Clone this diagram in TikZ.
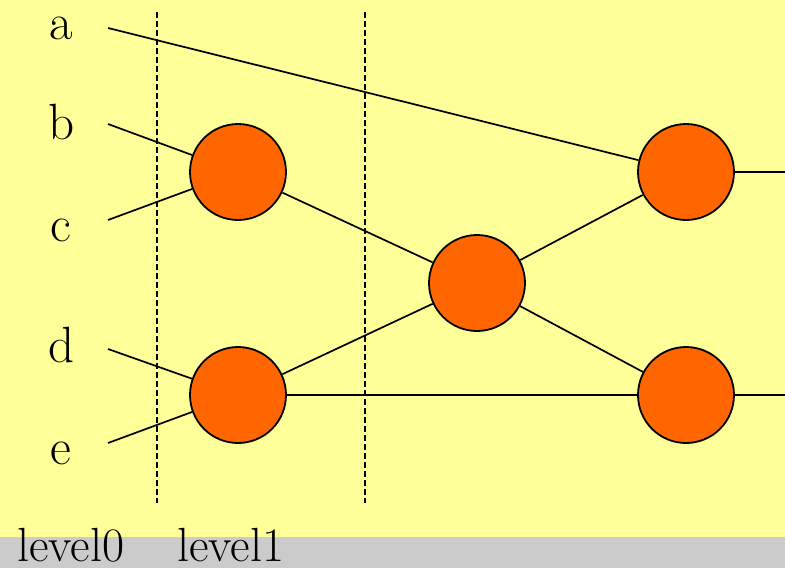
\documentclass[tikz,border=0pt]{standalone}
\usepackage{xcolor}
\usetikzlibrary{positioning}
\definecolor{paper}{RGB}{255,255,153}
\definecolor{strip}{RGB}{203,203,203}
\definecolor{cellfill}{RGB}{255,102,0}
\tikzset{
  cell/.style={circle, draw=black, line width=1.8pt, fill=cellfill, minimum size=96pt, inner sep=0pt},
  lbl/.style={inner sep=0pt, font=\rmfamily\fontsize{51}{51}\selectfont},
  levellbl/.style={inner sep=0pt, anchor=base west, font=\rmfamily\fontsize{48}{48}\selectfont},
  wire/.style={line width=1.7pt},
  cut/.style={line width=1.4pt, dash pattern=on 6pt off 3pt},
}
\begin{document}
\begin{tikzpicture}[x=1pt, y=-1pt]
        % Background
        \fill[paper] (0,0) rectangle (785,568);
        \fill[strip] (0,537) rectangle (785,568);
        \useasboundingbox (0,0) rectangle (785,568);

        % Inputs
        \node[lbl] (a) at (61,28) {a};
        \node[lbl] (b) at (62,122) {b};
        \node[lbl] (c) at (61,230) {c};
        \node[lbl] (d) at (62,345) {d};
        \node[lbl] (e) at (61,453) {e};
        \coordinate (ina) at (108,28);
        \coordinate (inb) at (108,124);
        \coordinate (inc) at (108,220);
        \coordinate (ind) at (108,349);
        \coordinate (ine) at (108,443);

        % Cells
        \node[cell] (c1) at (238,172) {};
        \node[cell] (c2) at (238,395) {};
        \node[cell] (c3) at (477,283) {};
        \node[cell] (c4) at (686,172) {};
        \node[cell] (c5) at (686,395) {};

        % Outputs
        \coordinate (out4) at (785,172);
        \coordinate (out5) at (785,395);

        % Level cuts
        \coordinate (cut0top) at (157,12);
        \coordinate (cut0bot) at (157,503);
        \coordinate (cut1top) at (365,12);
        \coordinate (cut1bot) at (365,503);
        \draw[cut] (cut0top) -- (cut0bot);
        \draw[cut] (cut1top) -- (cut1bot);

        % Connections
        \draw[wire] (ina) -- (c4);
        \draw[wire] (inb) -- (c1);
        \draw[wire] (inc) -- (c1);
        \draw[wire] (ind) -- (c2);
        \draw[wire] (ine) -- (c2);
        \draw[wire] (c1) -- (c3);
        \draw[wire] (c2) -- (c3);
        \draw[wire] (c3) -- (c4);
        \draw[wire] (c3) -- (c5);
        \draw[wire] (c2) -- (c5);
        \draw[wire] (c4) -- (out4);
        \draw[wire] (c5) -- (out5);

        % Levels
        \node[levellbl] (lev0) at (17,561) {level0};
        \node[levellbl] (lev1) at (177,561) {level1};
\end{tikzpicture}
\end{document}
